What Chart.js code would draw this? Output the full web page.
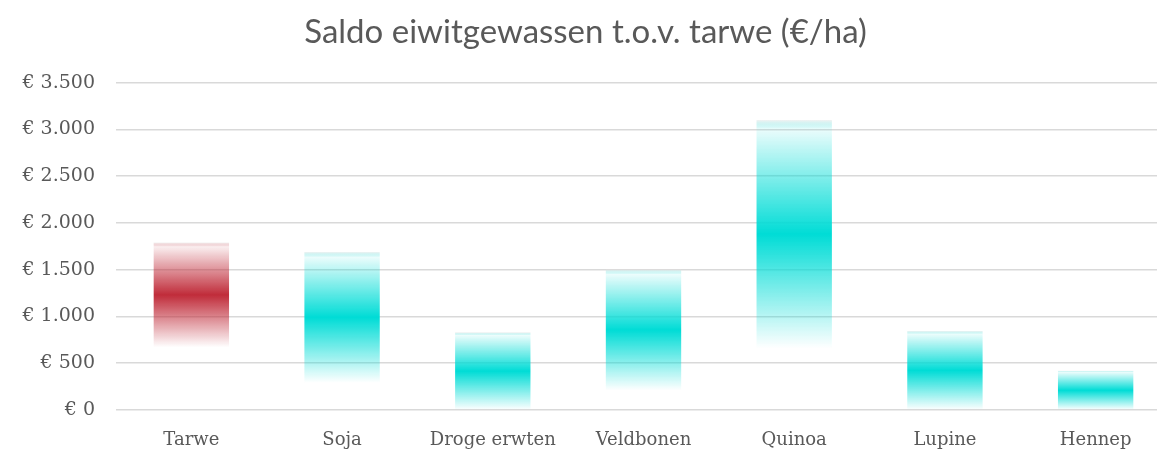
<!DOCTYPE html>
<html>
<head>
<meta charset="utf-8">
<script src="https://cdn.jsdelivr.net/npm/chart.js@4"></script>
<style>
  html, body { margin: 0; padding: 0; background: #fff; overflow: hidden; }
  #wrap { width: 1175px; height: 450px; }
</style>
</head>
<body>
<div id="wrap"><canvas id="chart" width="1175" height="450"></canvas></div>
<script>
// Gewassen en saldo-bandbreedte (€/ha)
const categories = ['Tarwe', 'Soja', 'Droge erwten', 'Veldbonen', 'Quinoa', 'Lupine', 'Hennep'];
const lowValues = [670, 290, 0, 210, 660, 0, 0];
const highValues = [1790, 1690, 830, 1500, 3100, 845, 420];
const yTicks = [0, 500, 1000, 1500, 2000, 2500, 3000, 3500];

const TEXT = '#595959';
const CYAN = [0, 220, 214];
const RED = [192, 44, 58];

function rgba(c, a) {
  return `rgba(${c[0]}, ${c[1]}, ${c[2]}, ${a})`;
}

// verloop: vaag boven, vol in het midden, wit onder
function barGradient(context) {
  const chart = context.chart;
  const raw = context.raw;
  if (!chart.chartArea || !raw) return rgba(CYAN, 0.6);
  const y = chart.scales.y;
  const top = y.getPixelForValue(raw[1]);
  const bottom = y.getPixelForValue(raw[0]);
  const c = context.dataIndex === 0 ? RED : CYAN;
  const g = chart.ctx.createLinearGradient(0, top, 0, bottom);
  g.addColorStop(0, 'rgba(235, 232, 232, 0.6)');
  g.addColorStop(0.04, rgba(c, 0.08));
  g.addColorStop(0.5, rgba(c, 1));
  g.addColorStop(1, rgba(c, 0));
  return g;
}

function euro(v) {
  return '€ ' + v.toLocaleString('nl-NL');
}

new Chart(document.getElementById('chart'), {
  type: 'bar',
  data: {
    labels: categories,
    datasets: [{
      data: categories.map((_, i) => [lowValues[i], highValues[i]]),
      backgroundColor: barGradient,
      borderWidth: 0,
      barPercentage: 0.5,
      categoryPercentage: 1
    }]
  },
  options: {
    responsive: false,
    animation: false,
    layout: { padding: { left: 0, right: 4, top: 0, bottom: 0 } },
    plugins: {
      legend: { display: false },
      tooltip: { enabled: false },
      title: {
        display: true,
        text: 'Saldo eiwitgewassen t.o.v. tarwe (€/ha)',
        color: TEXT,
        font: { family: 'Lato', size: 33, weight: 'normal' },
        padding: { top: 13, bottom: 30 }
      }
    },
    scales: {
      x: {
        grid: { display: false },
        border: { display: false },
        ticks: {
          color: TEXT,
          font: { family: 'DejaVu Serif', size: 18 },
          padding: 12
        },
        afterFit: function(scale) { scale.height = 40; }
      },
      y: {
        min: 0,
        max: 3500,
        afterBuildTicks: function(scale) {
          scale.ticks = yTicks.map(v => ({ value: v }));
        },
        grid: { color: '#d9d9d9', lineWidth: 1.5, drawTicks: false },
        border: { display: false },
        ticks: {
          color: TEXT,
          font: { family: 'DejaVu Serif', size: 19 },
          padding: 21,
          callback: function(v) { return euro(v); }
        },
        afterFit: function(scale) { scale.width = 116; }
      }
    }
  }
});
</script>
</body>
</html>
